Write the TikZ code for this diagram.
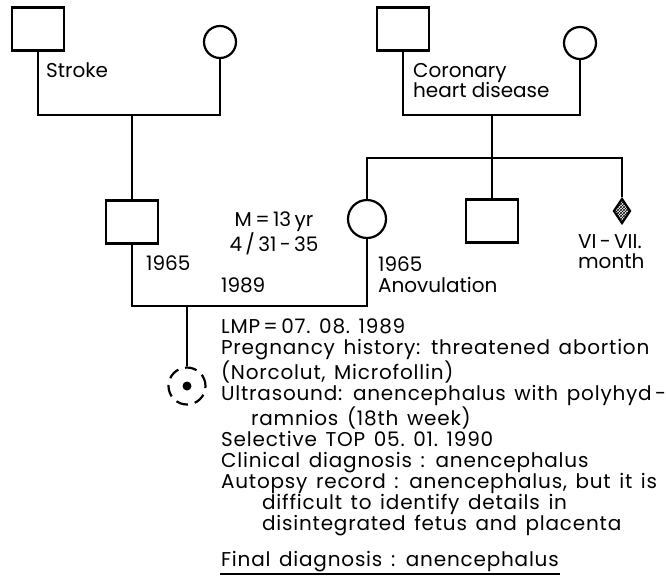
\documentclass[tikz,border=0pt]{standalone}
\usepackage{fontspec}
\setmainfont{Poppins}
\newfontfamily\notefont[LetterSpace=4, WordSpace=1.4]{Poppins}
\usetikzlibrary{shapes.geometric, patterns}

\begin{document}
\begin{tikzpicture}[x=1pt, y=-1pt, line width=2.2pt,
  male/.style={draw, rectangle, minimum width=52pt, minimum height=43pt, inner sep=0pt},
  female/.style={draw, circle, minimum size=32pt, inner sep=0pt},
  fetus/.style={draw, diamond, minimum width=17pt, minimum height=25pt, inner sep=0pt, pattern=crosshatch},
  proband/.style={draw, circle, minimum size=37pt, inner sep=0pt, dash pattern=on 12pt off 7pt},
  lbl/.style={font=\fontsize{20}{20.5}\selectfont, align=left, inner sep=0pt},
  note/.style={font=\notefont\fontsize{20}{21}\selectfont, align=left, inner sep=0pt}]
  \useasboundingbox (0,0) rectangle (666,576);

  \node[male] (gfa) at (38,29) {};
  \node[female] (gma) at (220,42) {};
  \node[male] (gfb) at (403,29) {};
  \node[female] (gmb) at (580,43) {};
  \node[male] (father) at (132,222) {};
  \node[female, minimum size=38pt] (mother) at (367,219) {};
  \node[male] (uncle) at (492,221) {};
  \node[fetus] (abort) at (622,211) {};
  \node[proband] (child) at (187,386) {};
  \fill (child.center) circle (4.5pt);

  \coordinate (ma) at (132,115);
  \coordinate (mb) at (492,115);
  \coordinate (sb) at (492,158);
  \coordinate (mp) at (187,306);

  \draw (gfa.south) |- (ma) -| (gma.south);
  \draw (ma) -- (father.north);
  \draw (gfb.south) |- (mb) -| (gmb.south);
  \draw (mb) -- (sb);
  \draw (mother.north) |- (sb) -| (abort.north);
  \draw (sb) -- (uncle.north);
  \draw (father.south) |- (mp) -| (mother.south);
  \draw (mp) -- (child.north);

  \node[lbl, anchor=base west] (stroke) at (45,77) {Stroke};
  \node[lbl, anchor=north west] (chd) at (412,62) {Coronary\\heart disease};
  \node[lbl, align=center, anchor=north] (menar) at (274,211) {M\,=\,13\,yr\\4\,/\,31\,-\,35};
  \node[lbl, anchor=base west] (fyear) at (145,270) {1965};
  \node[lbl, anchor=base west] (wed) at (220,292) {1989};
  \node[lbl, anchor=north west] (myear) at (377,256) {1965\\Anovulation};
  \node[lbl, anchor=north west] (month) at (577,233) {VI\,-\,VII.\\month};

  \node[note, anchor=north west] (hist) at (220,318)
    {LMP\,=\,07.~08.~1989\\
     Pregnancy history: threatened abortion\\
     (Norcolut, Microfollin)\\
     Ultrasound: anencephalus with polyhyd\,-\\
     \hspace*{30pt}ramnios (18th week)\\
     Selective TOP 05.~01.~1990\\
     Clinical diagnosis : anencephalus\\
     Autopsy record : anencephalus, but it is\\
     \hspace*{41pt}difficult to identify details in\\
     \hspace*{41pt}disintegrated fetus and placenta};
  \node[note, anchor=base west] (final) at (220,566) {Final diagnosis : anencephalus};
  \draw[line width=2pt] ([yshift=-8pt]final.base west) -- ([yshift=-8pt]final.base east);
\end{tikzpicture}
\end{document}
